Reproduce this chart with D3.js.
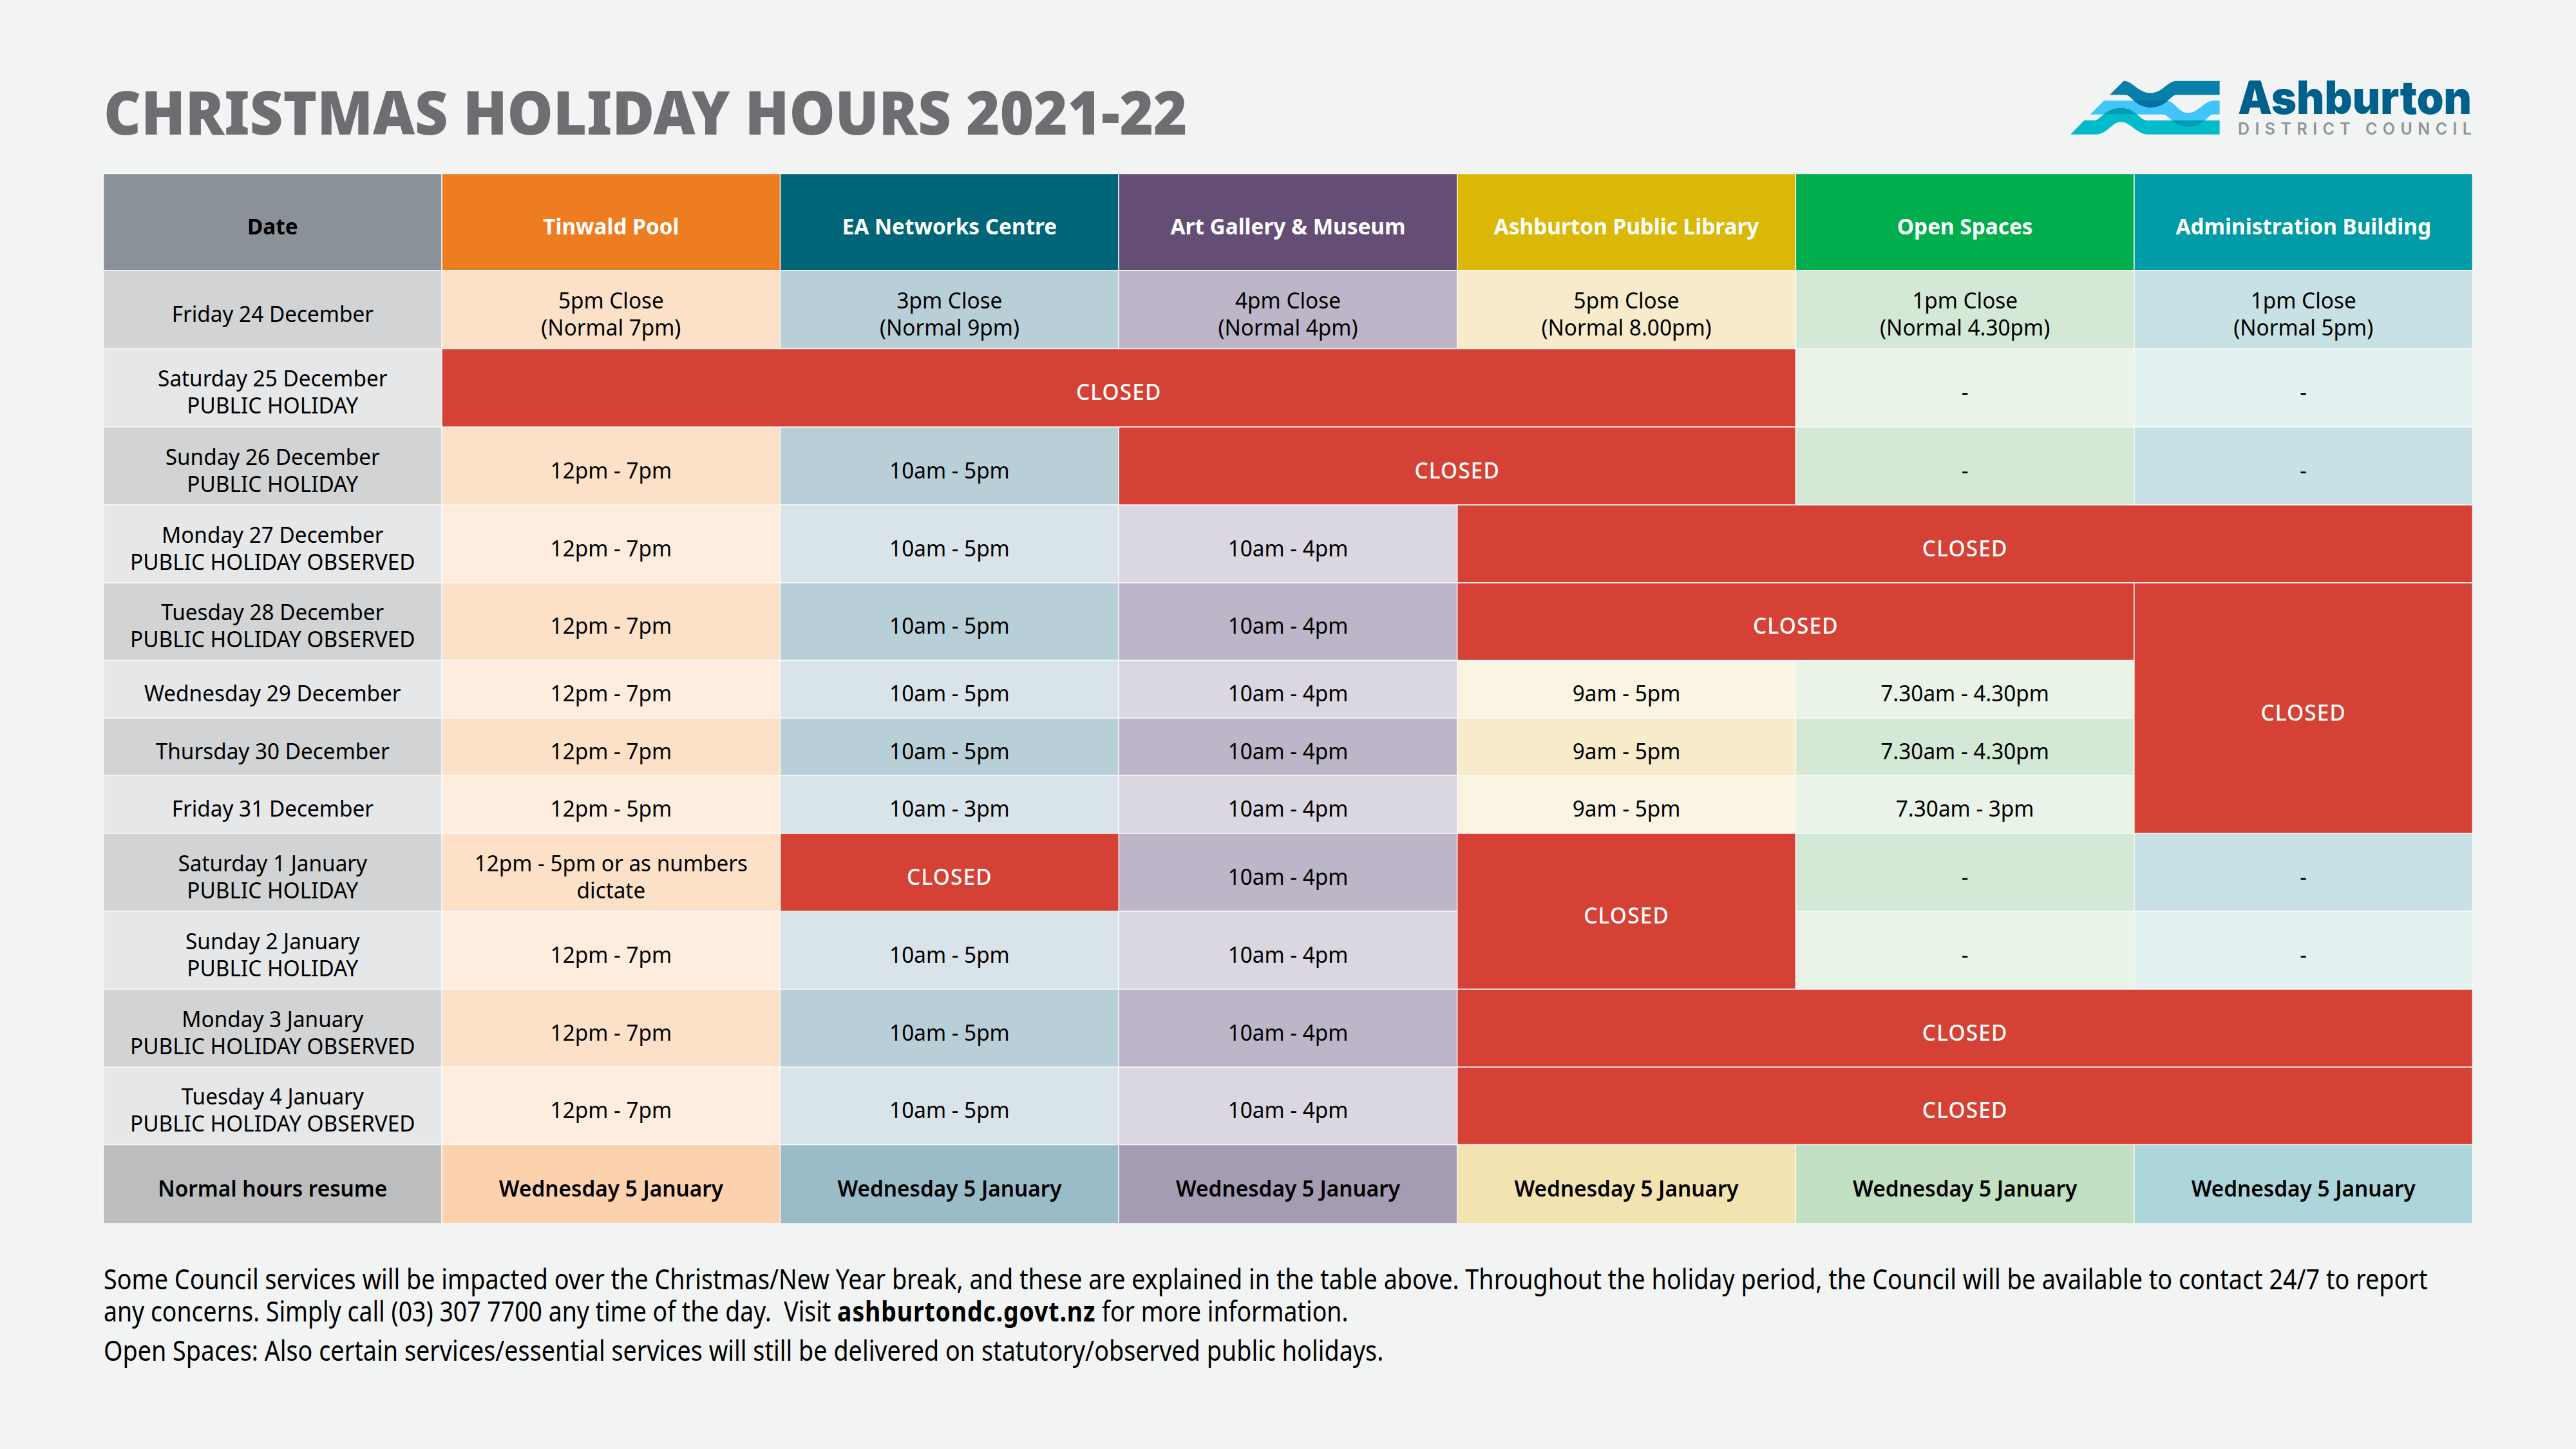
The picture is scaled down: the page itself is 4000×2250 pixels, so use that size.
<!DOCTYPE html>
<html>
<head>
<meta charset="utf-8">
<script src="https://cdn.jsdelivr.net/npm/d3@7"></script>
<style>
  html, body { margin: 0; background: #F2F4F3; }
  svg { display: block; }
  text { font-family: "Noto Sans", sans-serif; }
</style>
</head>
<body>
<div id="chart"></div>
<script>
const title = "CHRISTMAS HOLIDAY HOURS 2021-22";

const columns = ["Date", "Tinwald Pool", "EA Networks Centre", "Art Gallery & Museum",
  "Ashburton Public Library", "Open Spaces", "Administration Building"];

const dates = ["Friday 24 December", "Saturday 25 December\nPUBLIC HOLIDAY", "Sunday 26 December\nPUBLIC HOLIDAY",
  "Monday 27 December\nPUBLIC HOLIDAY OBSERVED", "Tuesday 28 December\nPUBLIC HOLIDAY OBSERVED",
  "Wednesday 29 December", "Thursday 30 December", "Friday 31 December",
  "Saturday 1 January\nPUBLIC HOLIDAY", "Sunday 2 January\nPUBLIC HOLIDAY",
  "Monday 3 January\nPUBLIC HOLIDAY OBSERVED", "Tuesday 4 January\nPUBLIC HOLIDAY OBSERVED"];

// null = the cell is covered by a CLOSED block
const tinwald = ["5pm Close\n(Normal 7pm)", null, "12pm - 7pm", "12pm - 7pm", "12pm - 7pm", "12pm - 7pm", "12pm - 7pm",
  "12pm - 5pm", "12pm - 5pm or as numbers\ndictate", "12pm - 7pm", "12pm - 7pm", "12pm - 7pm"];
const eaNetworks = ["3pm Close\n(Normal 9pm)", null, "10am - 5pm", "10am - 5pm", "10am - 5pm", "10am - 5pm", "10am - 5pm",
  "10am - 3pm", null, "10am - 5pm", "10am - 5pm", "10am - 5pm"];
const artGallery = ["4pm Close\n(Normal 4pm)", null, null, "10am - 4pm", "10am - 4pm", "10am - 4pm", "10am - 4pm",
  "10am - 4pm", "10am - 4pm", "10am - 4pm", "10am - 4pm", "10am - 4pm"];
const library = ["5pm Close\n(Normal 8.00pm)", null, null, null, null, "9am - 5pm", "9am - 5pm", "9am - 5pm",
  null, null, null, null];
const openSpaces = ["1pm Close\n(Normal 4.30pm)", "-", "-", null, null, "7.30am - 4.30pm", "7.30am - 4.30pm", "7.30am - 3pm",
  "-", "-", null, null];
const adminBuilding = ["1pm Close\n(Normal 5pm)", "-", "-", null, null, null, null, null, "-", "-", null, null];
const venues = [tinwald, eaNetworks, artGallery, library, openSpaces, adminBuilding];

const resumeLabel = "Normal hours resume";
const resumeDate = "Wednesday 5 January";

// [first column, last column, first date row, last date row]
const closedBlocks = [[1, 4, 1, 1], [3, 4, 2, 2], [4, 6, 3, 3], [4, 5, 4, 4], [6, 6, 4, 7],
  [2, 2, 8, 8], [4, 4, 8, 9], [4, 6, 10, 10], [4, 6, 11, 11]];

const footerLines = [
  [["Some Council services will be impacted over the Christmas/New Year break, and these are explained in the table above. Throughout the holiday period, the Council will be available to contact 24/7 to report", 400]],
  [["any concerns. Simply call (03) 307 7700 any time of the day.  Visit ", 400], ["ashburtondc.govt.nz", 700], [" for more information.", 400]],
  [["Open Spaces: Also certain services/essential services will still be delivered on statutory/observed public holidays.", 400]]
];

// colours by column
const headerColors = ["#8B9198", "#EE7D21", "#006577", "#654E75", "#DBB706", "#00AE4D", "#009BA6"];
const strongTints = ["#D1D3D4", "#FCE0C8", "#B9CFD8", "#BDB5C8", "#F8EBCC", "#D4E9D5", "#C7E1E5"];
const weakTints = ["#E6E7E9", "#FEEDDF", "#D8E4E9", "#DAD7E1", "#FAF4E3", "#E9F3E7", "#E4F1F1"];
const resumeTints = ["#BBBDBF", "#FBD1AE", "#9ABCC9", "#A59BB3", "#F3E3B1", "#C0E0C1", "#ACD6DB"];
const closedColor = "#D54135";

const width = 4000, height = 2250;
const gridColor = "#F7F8F8";

// row edges from the top of the header to the bottom of the table
const rowEdges = [269.5, 420, 541.5, 663, 784, 905, 1025.5, 1115, 1204, 1294, 1415, 1536, 1657, 1777.5, 1900];

const svg = d3.select("#chart").append("svg")
  .attr("width", width)
  .attr("height", height)
  .attr("viewBox", `0 0 ${width} ${height}`);

svg.append("rect").attr("width", width).attr("height", height).attr("fill", "#F2F4F3");

const x = d3.scaleBand().domain(d3.range(columns.length)).range([160.5, 3839.5]);
const y = d3.scaleLinear().domain(d3.range(rowEdges.length)).range(rowEdges);

// row 0 is the header, date rows start at 1
const rowOf = (i) => i + 1;
const resumeRow = dates.length + 1;

const cells = [];
columns.forEach((c, col) => cells.push({ col0: col, col1: col, row0: 0, row1: 0, label: c,
  fill: headerColors[col], color: col === 0 ? "#000" : "#fff", weight: 700, spacing: 0 }));

dates.forEach((d, i) => {
  const tint = (col) => (i % 2 === 0 ? strongTints : weakTints)[col];
  cells.push({ col0: 0, col1: 0, row0: rowOf(i), row1: rowOf(i), label: d, fill: tint(0), color: "#000", weight: 400, spacing: 0 });
  venues.forEach((v, j) => {
    if (v[i] !== null) {
      cells.push({ col0: j + 1, col1: j + 1, row0: rowOf(i), row1: rowOf(i), label: v[i], fill: tint(j + 1), color: "#000", weight: 400, spacing: 0 });
    }
  });
});

closedBlocks.forEach(([c0, c1, r0, r1]) => cells.push({ col0: c0, col1: c1, row0: rowOf(r0), row1: rowOf(r1),
  label: "CLOSED", fill: closedColor, color: "#fff", weight: 500, spacing: 1.2 }));

columns.forEach((c, col) => cells.push({ col0: col, col1: col, row0: resumeRow, row1: resumeRow,
  label: col === 0 ? resumeLabel : resumeDate, fill: resumeTints[col], color: "#000", weight: 600, spacing: 0 }));

const cellLeft = (d) => x(d.col0);
const cellRight = (d) => x(d.col1) + x.bandwidth();
const cellTop = (d) => y(d.row0);
const cellBottom = (d) => y(d.row1 + 1);

svg.append("g").selectAll("rect")
  .data(cells)
  .join("rect")
  .attr("x", cellLeft)
  .attr("y", cellTop)
  .attr("width", (d) => cellRight(d) - cellLeft(d))
  .attr("height", (d) => cellBottom(d) - cellTop(d))
  .attr("fill", (d) => d.fill)
  .attr("stroke", gridColor)
  .attr("stroke-width", 1.5);

// the body font is a bit narrower than Noto Sans, so text is squeezed a little
const squeeze = 0.98;
const bodySize = 34;
const lineGap = 42;

const labels = svg.append("g").selectAll("text")
  .data(cells)
  .join("text")
  .attr("transform", (d) => `translate(${(cellLeft(d) + cellRight(d)) / 2},${(cellTop(d) + cellBottom(d)) / 2 + 19}) scale(${squeeze},1)`)
  .attr("text-anchor", "middle")
  .attr("font-size", bodySize)
  .attr("font-weight", (d) => d.weight)
  .attr("letter-spacing", (d) => d.spacing)
  .attr("fill", (d) => d.color);

labels.selectAll("tspan")
  .data((d) => d.label.split("\n").map((line, i, all) => ({ line, dy: (i - (all.length - 1) / 2) * lineGap })))
  .join("tspan")
  .attr("x", 0)
  .attr("y", (d) => d.dy)
  .text((d) => d.line);

// title
svg.append("text")
  .attr("transform", "translate(161,209) scale(0.953,1)")
  .attr("font-size", 94)
  .attr("font-weight", 900)
  .attr("fill", "#6D6E71")
  .text(title);

// footer notes
const footerBaselines = [2002, 2052, 2113];
const footerSqueeze = [0.877, 0.87, 0.878];
const footer = svg.append("g").selectAll("text")
  .data(footerLines)
  .join("text")
  .attr("transform", (d, i) => `translate(161,${footerBaselines[i]}) scale(${footerSqueeze[i]},1)`)
  .attr("font-size", 43)
  .attr("fill", "#000")
  .style("white-space", "pre");

footer.selectAll("tspan")
  .data((d) => d)
  .join("tspan")
  .attr("font-weight", (d) => d[1])
  .attr("letter-spacing", (d) => (d[1] === 700 ? 1 : 0))
  .text((d) => d[0]);

// logo, drawn on a 3x grid
const logo = svg.append("g").attr("transform", "translate(3205,115) scale(0.3333)");
const topWave = "M213,97 L278,32 C320,32 345,88 403,88 C460,88 480,32 525,32 L725,32 L725,97 L525,97 C495,97 480,155 403,155 C330,155 315,97 285,97 Z";
const midWave = "M122,188 L186,124 L470,124 C520,124 530,181 578,181 C630,181 650,124 700,124 L725,124 L725,188 L695,188 C670,188 650,246 578,246 C510,246 490,188 460,188 Z";
const lowWave = "M30,281 L94,216 L140,216 C170,216 190,158 265,158 C335,158 350,216 390,216 L725,216 L725,281 L390,281 C340,281 310,223 265,223 C225,223 200,281 150,281 Z";

const defs = svg.append("defs");
defs.append("clipPath").attr("id", "clip-mid").append("path").attr("d", midWave);
defs.append("clipPath").attr("id", "clip-low").append("path").attr("d", lowWave);

logo.append("path").attr("d", lowWave).attr("fill", "#00BBC9");
logo.append("path").attr("d", midWave).attr("fill", "#41C4F8");
logo.append("path").attr("d", midWave).attr("fill", "#009DB4").attr("clip-path", "url(#clip-low)");
logo.append("path").attr("d", topWave).attr("fill", "#087FAB");
logo.append("path").attr("d", topWave).attr("fill", "#04709F").attr("clip-path", "url(#clip-mid)");

svg.append("text")
  .attr("x", 3475)
  .attr("y", 177)
  .style("font-family", "Inter")
  .attr("font-size", 71)
  .attr("font-weight", 900)
  .attr("fill", "#00608C")
  .attr("textLength", 363)
  .attr("lengthAdjust", "spacingAndGlyphs")
  .text("Ashburton");

svg.append("text")
  .attr("x", 3475)
  .attr("y", 209)
  .style("font-family", "Inter")
  .attr("font-size", 25)
  .attr("font-weight", 600)
  .attr("fill", "#8E959B")
  .attr("textLength", 363)
  .attr("lengthAdjust", "spacing")
  .text("DISTRICT COUNCIL");
</script>
</body>
</html>
